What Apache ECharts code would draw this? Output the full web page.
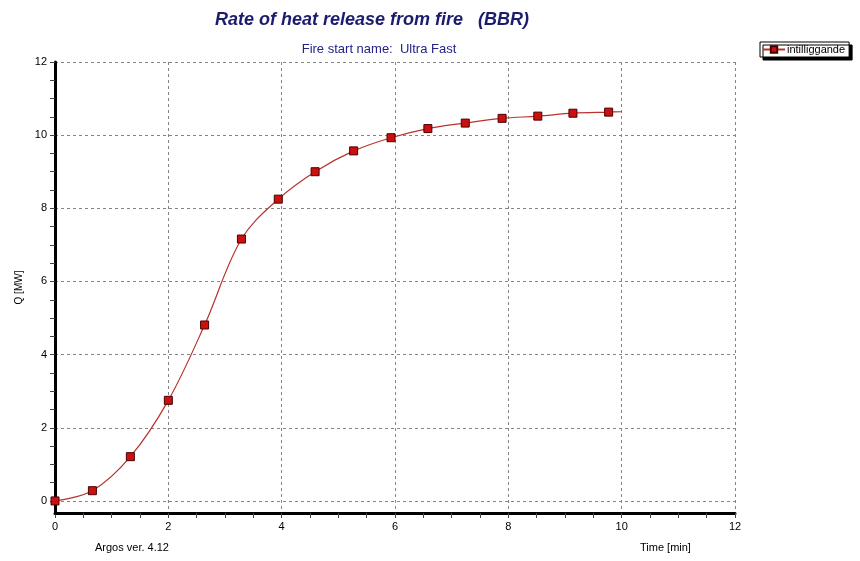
<!DOCTYPE html>
<html>
<head>
<meta charset="utf-8">
<script src="https://cdn.jsdelivr.net/npm/echarts@6/dist/echarts.min.js"></script>
<style>
  html, body { margin: 0; padding: 0; background: #ffffff; }
  #chart { width: 860px; height: 561px; }
</style>
</head>
<body>
<div id="chart"></div>
<script>
// Heat release rate curve (Argos, BBR) — time in minutes, Q in MW
const timeMin = [0, 0.66, 1.33, 2.0, 2.64, 3.29, 3.94, 4.59, 5.27, 5.93, 6.58, 7.24, 7.89, 8.52, 9.14, 9.77, 10.0];
const heatMW  = [0, 0.28, 1.21, 2.75, 4.81, 7.16, 8.25, 9.00, 9.57, 9.93, 10.18, 10.33, 10.46, 10.52, 10.60, 10.63, 10.64];
// the curve runs to the last time step; markers are drawn on the sampled steps only
const markerCount = 16;

const seriesName = 'intilliggande';
const titleText = 'Rate of heat release from fire   (BBR)';
const subtitleText = 'Fire start name:  Ultra Fast';
const xAxisTitle = 'Time [min]';
const yAxisTitle = 'Q [MW]';
const versionText = 'Argos ver. 4.12';

// tick marks every half unit on the value axis
const yTicks = [];
for (let v = 0; v <= 12; v += 0.5) yTicks.push(v);

const points = timeMin.map((t, i) => {
  const item = { value: [t, heatMW[i]] };
  if (i >= markerCount) item.symbol = 'none';
  return item;
});

const FONT = '"Liberation Sans", Arial, sans-serif';
const gridLine = { show: true, lineStyle: { color: '#858585', type: [3, 3], width: 1 } };

const chart = echarts.init(document.getElementById('chart'), null, { renderer: 'canvas' });
chart.setOption({
  animation: false,
  backgroundColor: '#ffffff',
  textStyle: { fontFamily: FONT },
  title: [
    {
      text: titleText,
      left: 367, top: 6, textAlign: 'center',
      textStyle: { fontFamily: FONT, fontSize: 18, fontWeight: 'bold', fontStyle: 'italic', color: '#1c1c6e' }
    },
    {
      text: subtitleText,
      left: 374, top: 38, textAlign: 'center',
      textStyle: { fontFamily: FONT, fontSize: 13, fontWeight: 'normal', color: '#23238a' }
    }
  ],
  legend: {
    left: 760, top: 42,
    orient: 'vertical',
    padding: [2, 4, 2, 2],
    itemWidth: 22, itemHeight: 8, itemGap: 4,
    backgroundColor: '#ffffff',
    borderColor: '#000000', borderWidth: 1, borderRadius: 0,
    shadowColor: '#000000', shadowBlur: 0, shadowOffsetX: 3, shadowOffsetY: 3,
    textStyle: { fontFamily: FONT, fontSize: 11, color: '#000000', padding: [0, 0, 0, -3] },
    data: [seriesName]
  },
  grid: { left: 55, right: 125, top: 62, bottom: 48, containLabel: false },
  xAxis: {
    type: 'value',
    min: 0, max: 12, interval: 2,
    axisLine: { onZero: false, lineStyle: { color: '#000000', width: 3 } },
    axisTick: { show: true, length: 5, lineStyle: { color: '#444444', width: 1 } },
    minorTick: { show: true, splitNumber: 4, length: 5, lineStyle: { color: '#444444', width: 1 } },
    axisLabel: { color: '#000000', fontSize: 11, margin: 8, fontFamily: FONT },
    splitLine: gridLine
  },
  yAxis: [
    {
      // labels, ticks and axis line
      type: 'value',
      min: -0.33, max: 12, splitNumber: 6,
      name: yAxisTitle,
      nameLocation: 'middle', nameGap: 28, nameRotate: 90,
      nameTextStyle: { color: '#000000', fontSize: 10, fontFamily: FONT },
      axisLine: { onZero: false, lineStyle: { color: '#000000', width: 3 } },
      axisTick: { show: true, customValues: yTicks, length: 5, lineStyle: { color: '#444444', width: 1 } },
      axisLabel: {
        color: '#000000', fontSize: 11, margin: 8, fontFamily: FONT,
        formatter: v => (Math.abs(v / 2 - Math.round(v / 2)) < 1e-6 ? String(Math.round(v)) : '')
      },
      splitLine: { show: false },
      z: 3
    },
    {
      // horizontal grid lines every 2 MW
      type: 'value',
      min: -0.33, max: 12, splitNumber: 6,
      position: 'left',
      axisLine: { show: false },
      axisTick: { show: false },
      axisLabel: { show: false },
      splitLine: gridLine,
      z: 0
    }
  ],
  graphic: [
    { type: 'text', left: 95, top: 542, style: { text: versionText, font: '11px ' + FONT, fill: '#000000' } },
    { type: 'text', left: 640, top: 542, style: { text: xAxisTitle, font: '11px ' + FONT, fill: '#000000' } }
  ],
  series: [{
    name: seriesName,
    type: 'line',
    data: points,
    smooth: 0.35,
    symbol: 'rect',
    symbolSize: 8,
    showAllSymbol: true,
    lineStyle: { color: '#b8332e', width: 1.2 },
    itemStyle: { color: '#cc1010', borderColor: '#4a0000', borderWidth: 1 },
    z: 5
  }]
});
</script>
</body>
</html>
